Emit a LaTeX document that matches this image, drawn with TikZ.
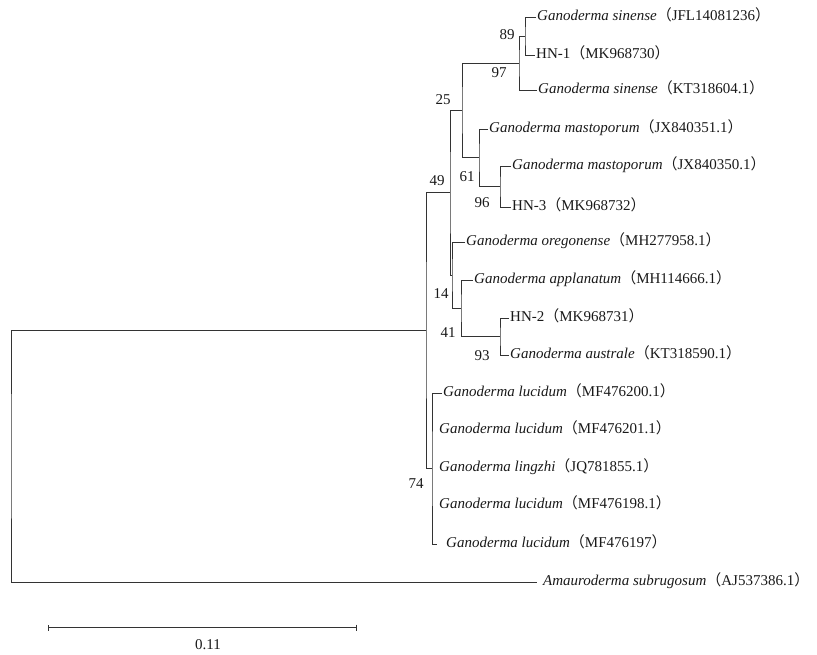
\documentclass[tikz,border=0pt]{standalone}
\usepackage{fontspec}
\setmainfont{Liberation Serif}
\newfontfamily\cjk{Noto Sans CJK SC}
\usetikzlibrary{arrows.meta}
\newcommand{\accno}[1]{{\cjk （}#1{\cjk ）}}
\newcommand{\gano}[1]{\textit{Ganoderma #1}}

\begin{document}
\begin{tikzpicture}[x=1pt,y=-1pt,font=\fontsize{15}{18}\selectfont,
    taxon/.style={anchor=west,inner xsep=1pt,inner ysep=0pt,text height=8pt,text depth=1.2pt,text=black!90},
    boot/.style={inner sep=0pt,text=black!90},
    branch/.style={draw=black!80,line width=1pt}]
    \useasboundingbox (0,0) rectangle (817,654);
    \node[taxon] (l1) at (536,17) {\gano{sinense}\accno{JFL14081236}};
    \node[taxon] (l2) at (535,55) {HN-1\accno{MK968730}};
    \node[taxon] (l3) at (537,90) {\gano{sinense}\accno{KT318604.1}};
    \node[taxon] (l4) at (488,129) {\gano{mastoporum}\accno{JX840351.1}};
    \node[taxon] (l5) at (511,166) {\gano{mastoporum}\accno{JX840350.1}};
    \node[taxon] (l6) at (511,207) {HN-3\accno{MK968732}};
    \node[taxon] (l7) at (465,242) {\gano{oregonense}\accno{MH277958.1}};
    \node[taxon] (l8) at (473,280) {\gano{applanatum}\accno{MH114666.1}};
    \node[taxon] (l9) at (509,318) {HN-2\accno{MK968731}};
    \node[taxon] (l10) at (509,355) {\gano{australe}\accno{KT318590.1}};
    \node[taxon] (l11) at (442,393) {\gano{lucidum}\accno{MF476200.1}};
    \node[taxon,inner xsep=7pt] (l12) at (432,430) {\gano{lucidum}\accno{MF476201.1}};
    \node[taxon,inner xsep=7pt] (l13) at (432,468) {\gano{lingzhi}\accno{JQ781855.1}};
    \node[taxon,inner xsep=7pt] (l14) at (432,505) {\gano{lucidum}\accno{MF476198.1}};
    \node[taxon,inner xsep=9pt] (l15) at (437,544) {\gano{lucidum}\accno{MF476197}};
    \node[taxon,inner xsep=6pt] (l16) at (537,582) {\textit{Amauroderma subrugosum}\accno{AJ537386.1}};

    \coordinate (n89) at (525,36);
    \coordinate (n97) at (519,63);
    \coordinate (n96) at (500,186.5);
    \coordinate (n61) at (479,157.5);
    \coordinate (n25) at (462,110);
    \coordinate (n93) at (500,336.5);
    \coordinate (n41) at (461,308);
    \coordinate (n14) at (452,275);
    \coordinate (n49) at (450,192.5);
    \coordinate (n74) at (432,468.5);
    \coordinate (ningroup) at (426,330);
    \coordinate (nroot) at (11,456);

    \draw[branch] (l1.west) -| (n89) |- (l2.west);
    \draw[branch] (n89) -| (n97) |- (l3.west);
    \draw[branch] (l5.west) -| (n96) |- (l6.west);
    \draw[branch] (l4.west) -| (n61) |- (n96);
    \draw[branch] (n97) -| (n25) |- (n61);
    \draw[branch] (l9.west) -| (n93) |- (l10.west);
    \draw[branch] (l8.west) -| (n41) |- (n93);
    \draw[branch] (l7.west) -| (n14) |- (n41);
    \draw[branch] (n25) -| (n49) |- (n14);
    \draw[branch] (l11.west) -| (n74) |- (l15.west);
    \draw[branch] (n49) -| (ningroup) |- (n74);
    \draw[branch] (ningroup) -| (nroot) |- (l16.west);

    \node[boot] (b89) at (507,35) {89};
    \node[boot] (b97) at (499,73) {97};
    \node[boot] (b25) at (443,100) {25};
    \node[boot] (b61) at (467,177) {61};
    \node[boot] (b49) at (437,181) {49};
    \node[boot] (b96) at (482,203) {96};
    \node[boot] (b14) at (441,294) {14};
    \node[boot] (b41) at (448,333) {41};
    \node[boot] (b93) at (482,356) {93};
    \node[boot] (b74) at (416,484) {74};

    \coordinate (sb1) at (48,627.5);
    \coordinate (sb2) at (357,627.5);
    \draw[branch,{Bar[width=6pt]}-{Bar[width=6pt]}] (sb1) -- (sb2);
    \node[boot] (sblabel) at (208,645) {0.11};
\end{tikzpicture}
\end{document}
